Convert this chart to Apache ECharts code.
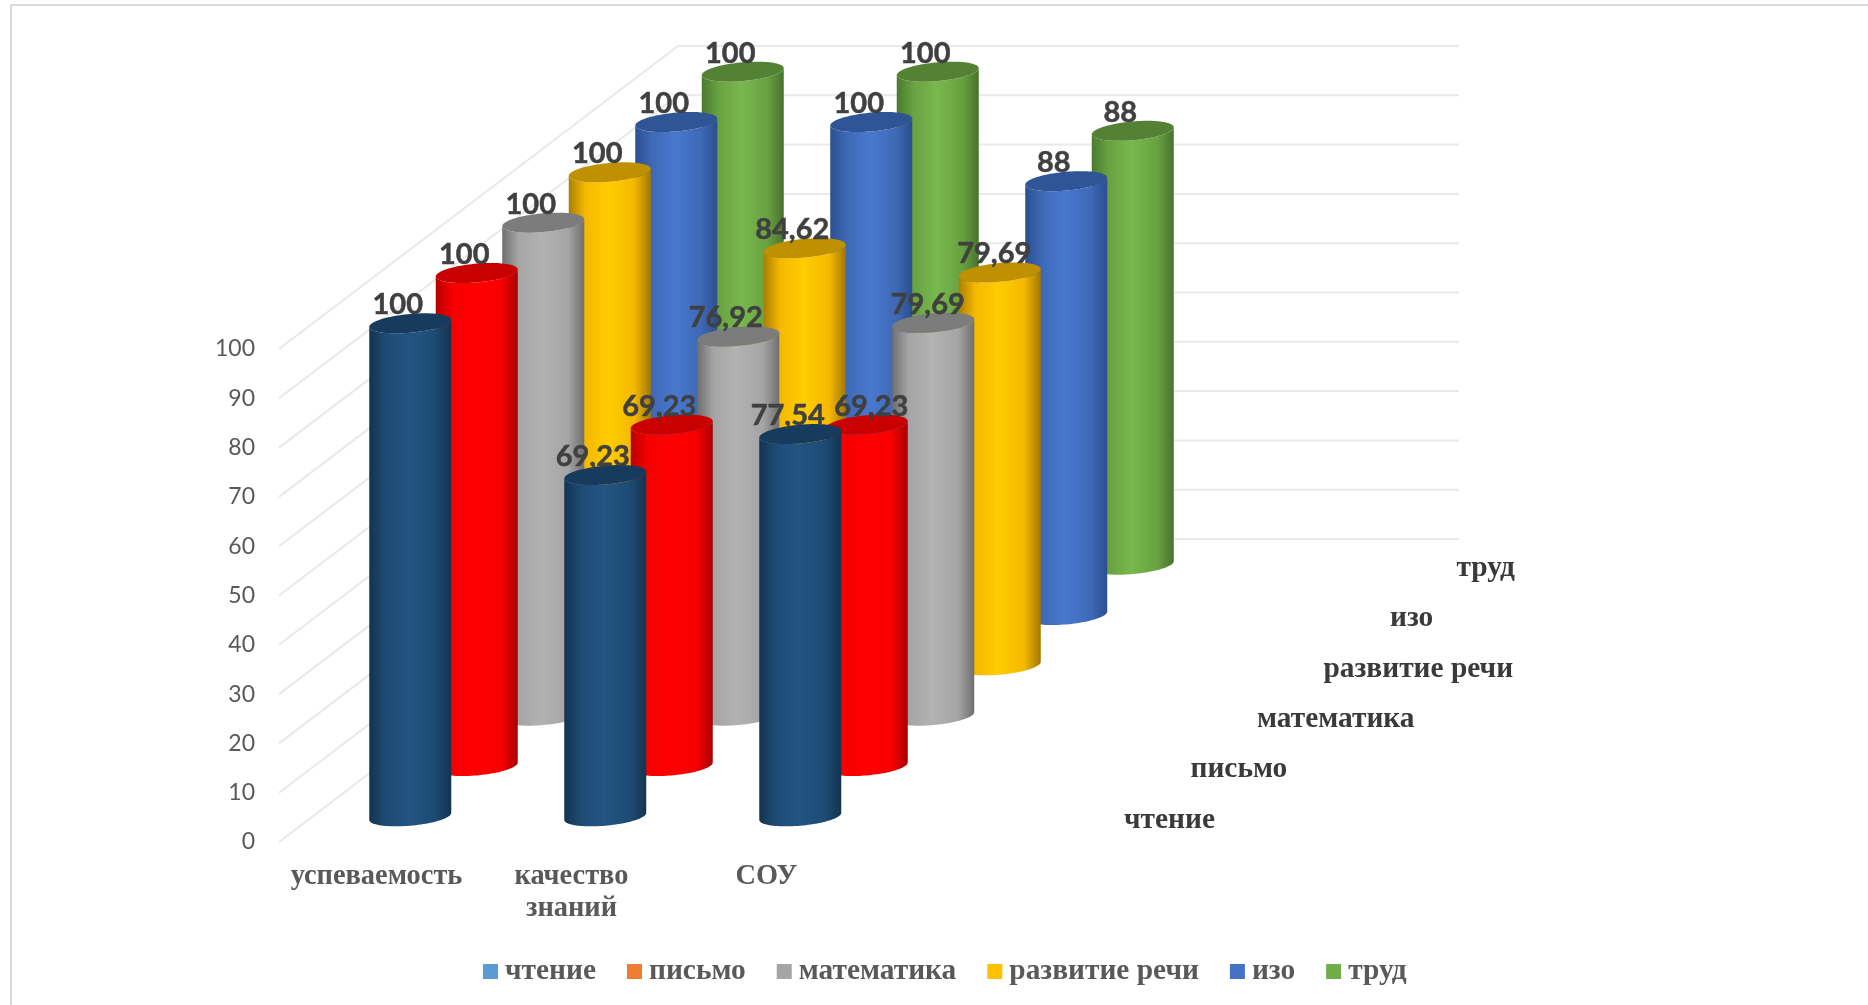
<!DOCTYPE html>
<html>
<head>
<meta charset="utf-8">
<style>html,body{margin:0;padding:0;background:#fff}#c{width:1868px;height:1005px}</style>
<script src="https://cdn.jsdelivr.net/npm/echarts@6/dist/echarts.min.js"></script>
</head>
<body>
<div id="c"></div>
<script>
const categories = ['успеваемость', 'качество\nзнаний', 'СОУ'];
const seriesNames = ['чтение', 'письмо', 'математика', 'развитие речи', 'изо', 'труд'];
const chtenie = [100, 69.23, 77.54];
const pismo = [100, 69.23, 69.23];
const matematika = [100, 76.92, 79.69];
const razvitie = [100, 84.62, 79.69];
const izo = [100, 100, 88];
const trud = [100, 100, 88];
const yTicks = [0, 10, 20, 30, 40, 50, 60, 70, 80, 90, 100];
const seriesValues = [chtenie, pismo, matematika, razvitie, izo, trud];

const legendColors = ['#5b9bd5', '#ed7d31', '#a5a5a5', '#ffc000', '#4472c4', '#70ad47'];
const bodyColors = [
  ['#14344f', '#1d4b74', '#235482', '#1d4b74', '#14344f'],
  ['#b80000', '#f50000', '#ff0000', '#f80000', '#a80000'],
  ['#6f6f6f', '#a5a5a5', '#b2b2b2', '#a5a5a5', '#6f6f6f'],
  ['#a87f00', '#f5b800', '#ffcc00', '#f5b800', '#a07800'],
  ['#2b4f8f', '#3f69b6', '#4878ce', '#3f69b6', '#2b4f8f'],
  ['#4b7a2f', '#68a141', '#78b84d', '#68a141', '#47732c']
];
const topColors = ['#163b5c', '#c80000', '#7c7c7c', '#bf9000', '#2f5597', '#548235'];

const DEPTH_X = 66.5, DEPTH_Y = -50.33, DEPTHS = 6;
const RX = 41, RY = 9.4, TILT = 3.5;

function labelNudge(cat, depth) {
  if (cat !== 2) return 0;
  return depth === 1 ? 17 : (depth === 2 || depth === 3) ? 7 : 0;
}
function ellipsePt(cx, cy, t) {
  return [cx + RX * Math.cos(t), cy + RY * Math.sin(t) - TILT * Math.cos(t)];
}
function cylinderRender(depth) {
  return function (params, api) {
    const base = api.coord([api.value(0), 0]);
    const top = api.coord([api.value(0), api.value(1)]);
    const ox = (depth + 0.5) * DEPTH_X, oy = (depth + 0.5) * DEPTH_Y;
    const cx = base[0] + ox + 0.5, by = base[1] + oy - 0.5, ty = top[1] + oy - 0.5;
    const N = 48;
    const body = [];
    for (let k = 0; k <= N; k++) body.push(ellipsePt(cx, by, Math.PI - Math.PI * k / N));
    for (let k = 0; k <= N; k++) body.push(ellipsePt(cx, ty, Math.PI * k / N));
    const cap = [];
    for (let k = 0; k < N * 2; k++) cap.push(ellipsePt(cx, ty, Math.PI * k / N));
    const c = bodyColors[depth];
    return {
      type: 'group',
      children: [
        { type: 'polygon', shape: { points: body }, style: {
            fill: { type: 'linear', x: 0, y: 0, x2: 1, y2: 0, colorStops: [
              { offset: 0, color: c[0] }, { offset: 0.2, color: c[1] },
              { offset: 0.48, color: c[2] }, { offset: 0.8, color: c[3] }, { offset: 1, color: c[4] }
            ] } } },
        { type: 'polygon', shape: { points: cap }, style: { fill: topColors[depth] } }
      ]
    };
  };
}

const cylinderSeries = seriesNames.map((name, depth) => ({
  type: 'custom', name, z: 10 + (DEPTHS - depth), silent: true,
  coordinateSystem: 'cartesian2d',
  itemStyle: { color: legendColors[depth] },
  data: seriesValues[depth].map((v, i) => [i, v]),
  encode: { x: 0, y: 1 },
  renderItem: cylinderRender(depth)
}));

const labelRows = [];
seriesValues.forEach((vals, d) => vals.forEach((v, i) => labelRows.push([i, v, d])));

const wallSeries = {
  type: 'custom', name: 'стенка', z: 1, silent: true,
  data: yTicks.map(v => [0, v]),
  encode: { x: 0, y: 1 },
  renderItem(params, api) {
    const p = api.coord([0, api.value(1)]);
    const x0 = p[0] - 97.5;
    const x1 = x0 + DEPTHS * DEPTH_X, y1 = p[1] + DEPTHS * DEPTH_Y - 1;
    const st = { stroke: '#e9e9e9', lineWidth: 2, fill: null };
    return { type: 'group', children: [
      { type: 'line', shape: { x1: x0, y1: p[1], x2: x1, y2: y1 }, style: st },
      { type: 'line', shape: { x1: x1, y1: y1, x2: x1 + 781, y2: y1 }, style: st }
    ] };
  }
};

const labelSeries = {
  type: 'custom', name: 'подписи', z: 30, silent: true,
  data: labelRows,
  encode: { x: 0, y: 1 },
  renderItem(params, api) {
    const d = api.value(2), v = api.value(1), cat = api.value(0);
    const p = api.coord([cat, v]);
    return { type: 'text', style: {
      text: String(v).replace('.', ','),
      x: p[0] + (d + 0.5) * DEPTH_X - 12 + labelNudge(cat, d),
      y: p[1] + (d + 0.5) * DEPTH_Y - 19,
      textAlign: 'center', textVerticalAlign: 'middle',
      fontFamily: 'Lato', fontWeight: 'bold', fontSize: 29, fill: '#404040',
      stroke: '#404040', lineWidth: 0.5
    } };
  }
};

const depthLabelSeries = {
  type: 'custom', name: 'глубина', z: 30, silent: true,
  data: seriesNames.map((n, d) => [2, 0, d]),
  encode: { x: 0, y: 1 },
  renderItem(params, api) {
    const d = api.value(2);
    const p = api.coord([2, 0]);
    return { type: 'text', style: {
      text: seriesNames[d],
      x: p[0] + 357.5 + d * DEPTH_X,
      y: p[1] - 22 + d * DEPTH_Y,
      textAlign: 'left', textVerticalAlign: 'middle',
      fontFamily: 'Liberation Serif', fontWeight: 'bold', fontSize: 29.4, fill: '#3a3a3a'
    } };
  }
};

const chart = echarts.init(document.getElementById('c'), null, { renderer: 'canvas' });
chart.setOption({
  animation: false,
  backgroundColor: '#ffffff',
  tooltip: { show: false },
  grid: { left: 279, top: 349, width: 585, height: 493 },
  xAxis: {
    type: 'category', data: categories, boundaryGap: true,
    axisLine: { show: false }, axisTick: { show: false }, splitLine: { show: false },
    axisLabel: { margin: 19, color: '#595959', fontFamily: 'Liberation Serif', fontWeight: 'bold', fontSize: 28.4, lineHeight: 32, interval: 0 }
  },
  yAxis: {
    type: 'value', min: 0, max: 100, interval: 10,
    axisLine: { show: false }, axisTick: { show: false }, splitLine: { show: false },
    axisLabel: { margin: 24, color: '#595959', fontFamily: 'Lato', fontSize: 23, padding: [2, 0, 0, 0] }
  },
  legend: {
    data: seriesNames, left: 478, top: 952, icon: 'rect', itemWidth: 15, itemHeight: 15, itemGap: 31,
    selectedMode: false,
    textStyle: { color: '#595959', fontFamily: 'Liberation Serif', fontWeight: 'bold', fontSize: 29.4, padding: [0, 0, 0, 2] }
  },
  graphic: [
    { type: 'line', silent: true, shape: { x1: 10, y1: 5, x2: 1868, y2: 5 }, style: { stroke: '#d9d9d9', lineWidth: 2 } },
    { type: 'line', silent: true, shape: { x1: 11, y1: 4, x2: 11, y2: 1005 }, style: { stroke: '#d9d9d9', lineWidth: 2 } }
  ],
  series: [wallSeries].concat(cylinderSeries.slice().reverse(), [labelSeries, depthLabelSeries])
});
</script>
</body>
</html>
